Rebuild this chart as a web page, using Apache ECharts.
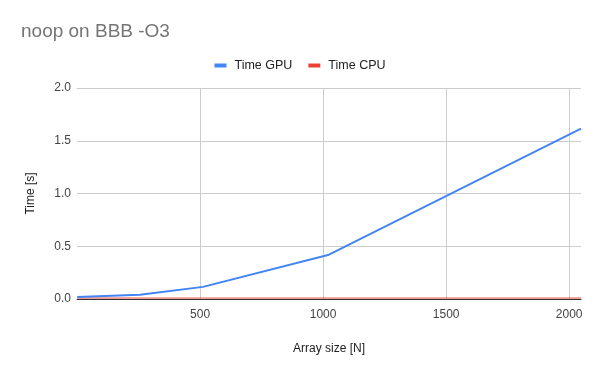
<!DOCTYPE html>
<html><head><meta charset="utf-8">
<script src="https://cdn.jsdelivr.net/npm/echarts@6/dist/echarts.min.js"></script>
<style>html,body{margin:0;padding:0;background:#fff}#c{width:600px;height:371px}</style>
</head><body><div id="c"></div>
<script>
var arraySizes = [1, 256, 512, 1024, 2048];
var timeGPU = [0.02, 0.04, 0.115, 0.42, 1.615];
var timeCPU = [0.009, 0.009, 0.009, 0.009, 0.009];
var seriesNames = ['Time GPU', 'Time CPU'];

var font = 'Arial, "Liberation Sans", sans-serif';
var chart = echarts.init(document.getElementById('c'), null, {renderer: 'canvas'});
chart.setOption({
  animation: false,
  textStyle: {fontFamily: font},
  title: {text: 'noop on BBB -O3', left: 16, top: 17,
    textStyle: {fontSize: 19, fontWeight: 'normal', color: '#757575', fontFamily: font}},
  legend: {top: 54, left: 'center', icon: 'rect', itemWidth: 12, itemHeight: 4, itemGap: 16,
    textStyle: {fontSize: 12.5, color: '#222', fontFamily: font, padding: [0, 0, 0, 3]},
    data: seriesNames},
  grid: {left: 77, right: 19, top: 88, bottom: 72},
  xAxis: {type: 'value', min: 0, max: 2048, interval: 500,
    name: 'Array size [N]', nameLocation: 'middle', nameGap: 44,
    nameTextStyle: {fontSize: 12, color: '#222', fontFamily: font},
    axisLine: {show: true, lineStyle: {color: '#333', width: 1}},
    axisTick: {show: false},
    axisLabel: {showMinLabel: false, showMaxLabel: false, fontSize: 12, color: '#444', margin: 10, fontFamily: font,
      formatter: function(v){return String(v);}},
    splitLine: {show: true, showMinLine: false, showMaxLine: false, lineStyle: {color: '#ccc'}}
  },
  yAxis: {type: 'value', min: 0, max: 2, interval: 0.5,
    name: 'Time [s]', nameLocation: 'middle', nameGap: 40,
    nameTextStyle: {fontSize: 12, color: '#222', fontFamily: font},
    axisLine: {show: false}, axisTick: {show: false},
    axisLabel: {fontSize: 12, color: '#444', margin: 6, fontFamily: font,
      formatter: function(v){return v.toFixed(1);}},
    splitLine: {show: true, lineStyle: {color: '#ccc'}}
  },
  series: [
    {name: seriesNames[0], type: 'line', showSymbol: false, symbol: 'none', z: 3,
      data: arraySizes.map(function(x,i){return [x, timeGPU[i]];}),
      lineStyle: {width: 2, color: '#4285F4'}, itemStyle: {color: '#4285F4'}},
    {name: seriesNames[1], type: 'line', showSymbol: false, symbol: 'none', z: 2,
      data: arraySizes.map(function(x,i){return [x, timeCPU[i]];}),
      lineStyle: {width: 1, color: '#EA4335'}, itemStyle: {color: '#EA4335'}}
  ]
});
</script></body></html>
